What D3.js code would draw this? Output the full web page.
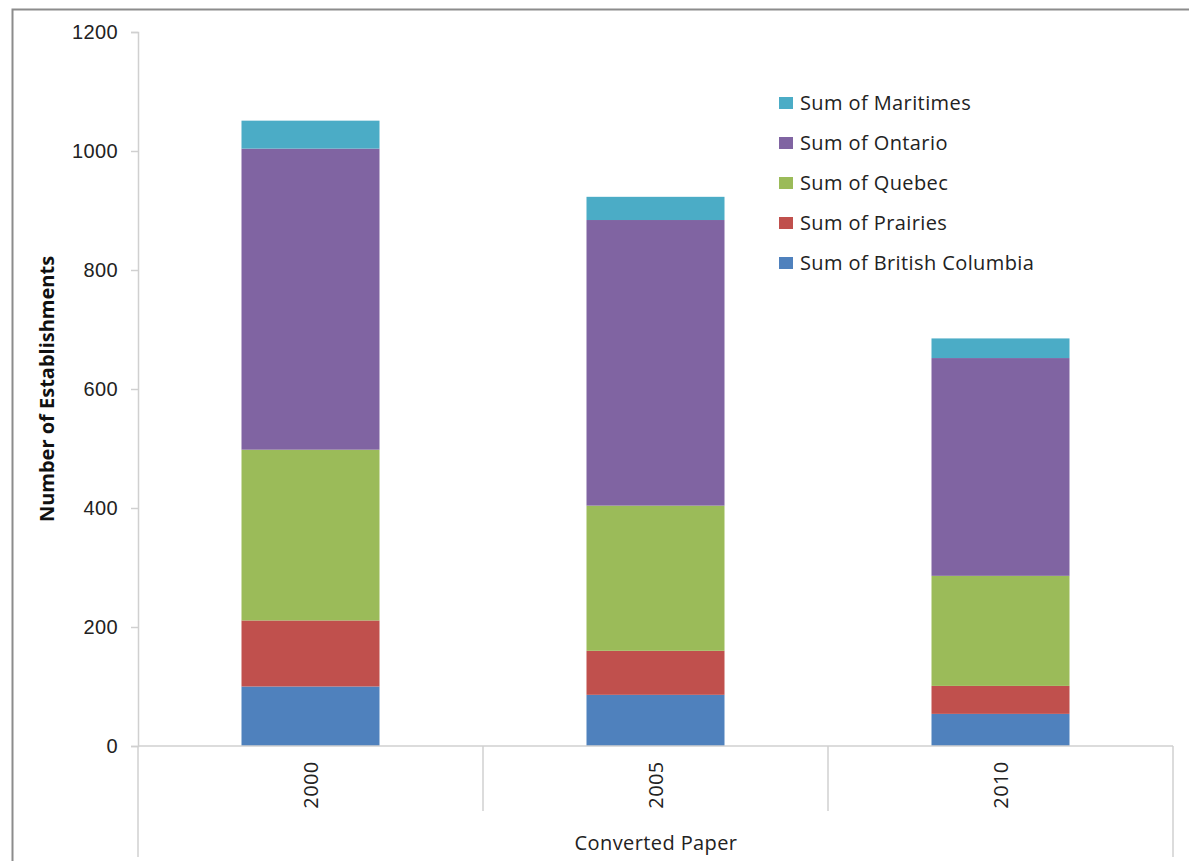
<!DOCTYPE html>
<html>
<head>
<meta charset="utf-8">
<script src="https://cdn.jsdelivr.net/npm/d3@7"></script>
<style>
  html, body { margin: 0; padding: 0; background: #fff; }
  svg { display: block; font-family: "Open Sans", "Liberation Sans", sans-serif; }
</style>
</head>
<body>
<svg id="chart" width="1189" height="861"></svg>
<script>
// Establishments by region, Converted Paper
const years = ["2000", "2005", "2010"];
const britishColumbia = [100, 86, 54];
const prairies = [111, 74, 47];
const quebec = [287, 244, 185];
const ontario = [506, 480, 366];
const maritimes = [47, 39, 33];
const yTicks = [0, 200, 400, 600, 800, 1000, 1200];
const seriesNames = ["Sum of British Columbia", "Sum of Prairies", "Sum of Quebec", "Sum of Ontario", "Sum of Maritimes"];
const seriesColors = ["#4f81bd", "#c0504d", "#9bbb59", "#8064a2", "#4bacc6"];

const seriesValues = [britishColumbia, prairies, quebec, ontario, maritimes];
const keys = ["bc", "pr", "qc", "on", "ma"];
const rows = years.map((y, i) => {
  const r = { year: y };
  keys.forEach((k, j) => { r[k] = seriesValues[j][i]; });
  return r;
});

const svg = d3.select("#chart");
const plotLeft = 138, plotRight = 1173, plotTop = 32, plotBottom = 746;
const labelStyle = sel => sel.attr("fill", "#222").style("font-size", "20px").style("letter-spacing", "0.4px");

// outer chart frame
svg.append("path")
  .attr("d", "M12.5,870 V9.5 H1200")
  .attr("fill", "none").attr("stroke", "#8c8c8c").attr("stroke-width", 2);

const x = d3.scaleBand().domain(years).range([plotLeft, plotRight]).paddingInner(0.6).paddingOuter(0.3);
const y = d3.scaleLinear().domain([0, 1200]).range([plotBottom, plotTop]);

const layers = d3.stack().keys(keys)(rows);

svg.append("g").selectAll("g").data(layers).join("g")
  .attr("fill", (d, i) => seriesColors[i])
  .selectAll("rect").data(d => d).join("rect")
  .attr("x", d => x(d.data.year))
  .attr("width", x.bandwidth())
  .attr("y", d => y(d[1]))
  .attr("height", d => y(d[0]) - y(d[1]));

// value axis
const yAxis = svg.append("g")
  .attr("transform", `translate(${plotLeft},0)`)
  .call(d3.axisLeft(y).tickValues(yTicks).tickSize(7).tickPadding(13).tickFormat(d3.format("d")));
yAxis.select(".domain").attr("stroke", "#d0d0d0").attr("stroke-width", 1.5);
yAxis.selectAll(".tick line").attr("stroke", "#d0d0d0").attr("stroke-width", 1.5);
yAxis.selectAll(".tick text").call(labelStyle);

// category axis with group separators
const step = (plotRight - plotLeft) / years.length;
const cat = svg.append("g").attr("stroke", "#d0d0d0").attr("stroke-width", 1.5);
cat.append("line").attr("x1", plotLeft).attr("x2", plotRight).attr("y1", plotBottom).attr("y2", plotBottom);
[0, years.length].forEach(i => {
  cat.append("line").attr("x1", plotLeft + i * step).attr("x2", plotLeft + i * step)
    .attr("y1", plotBottom).attr("y2", 857);
});
d3.range(1, years.length).forEach(i => {
  cat.append("line").attr("x1", plotLeft + i * step).attr("x2", plotLeft + i * step)
    .attr("y1", plotBottom).attr("y2", 811);
});

svg.append("g").selectAll("text").data(years).join("text")
  .attr("transform", d => `translate(${x(d) + x.bandwidth() / 2 + 7},785) rotate(-90)`)
  .attr("text-anchor", "middle")
  .call(labelStyle)
  .text(d => d);

svg.append("text")
  .attr("x", 656).attr("y", 850)
  .attr("text-anchor", "middle")
  .call(labelStyle)
  .text("Converted Paper");

svg.append("text")
  .attr("transform", "translate(54,389) rotate(-90)")
  .attr("text-anchor", "middle")
  .attr("fill", "#111")
  .style("font-size", "20px")
  .style("font-weight", "bold")
  .text("Number of Establishments");

// legend, top series first
const legendOrder = d3.range(seriesNames.length).reverse();
const legend = svg.append("g").selectAll("g").data(legendOrder).join("g")
  .attr("transform", (d, i) => `translate(779,${103 + i * 40})`);
legend.append("rect")
  .attr("x", 0).attr("y", -6).attr("width", 14).attr("height", 12)
  .attr("fill", d => seriesColors[d]);
legend.append("text")
  .attr("x", 21).attr("y", 7)
  .call(labelStyle)
  .text(d => seriesNames[d]);
</script>
</body>
</html>
